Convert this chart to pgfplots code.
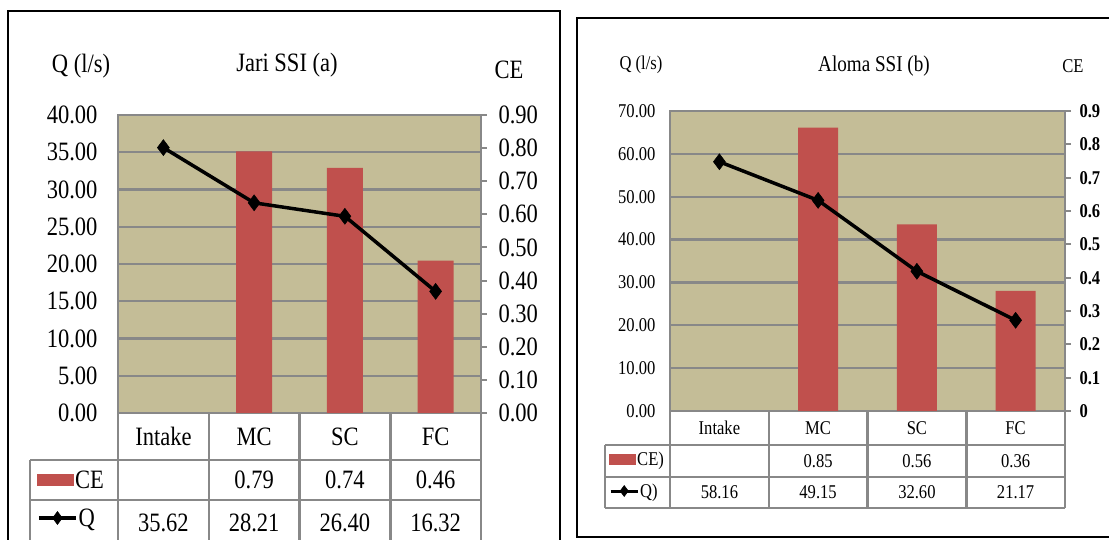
\documentclass[border=0pt]{standalone}
\usepackage{pgfplots}
\pgfplotsset{compat=1.18}
\usepackage{fontspec}
\setmainfont{Liberation Serif}[FakeStretch=0.85]

\definecolor{panel}{RGB}{196,189,151}
\definecolor{cebar}{RGB}{192,80,77}
\definecolor{rule}{RGB}{136,136,136}

\newcommand\fA{\fontsize{26.5}{28}\selectfont}
\newcommand\fB{\fontsize{19.5}{21}\selectfont}
\newcommand\fBt{\fontsize{22.5}{24}\selectfont}

\pgfplotsset{
  frame/.style={scale only axis, anchor=south west, xmin=-0.5, xmax=3.5, xtick=\empty},
  backdrop/.style={frame, axis background/.style={fill=panel},
    ymajorgrids, grid style={rule, line width=2.2pt},
    axis line style={rule, line width=2.5pt}, major tick length=0pt,
    yticklabel style={/pgf/number format/fixed, /pgf/number format/fixed zerofill,
      /pgf/number format/precision=2, /pgf/number format/assume math mode=true}},
  ceaxis/.style={frame, axis y line*=right, axis x line=none,
    axis line style={rule, line width=2.5pt, -},
    tick align=outside, major tick length=6pt, ytick style={rule, line width=2pt},
    ymin=0, ymax=0.9, ytick={0,0.1,0.2,0.3,0.4,0.5,0.6,0.7,0.8,0.9}, ybar,
    legend style={draw=none, fill=none, inner sep=0pt, anchor=west,
      nodes={inner sep=1pt}}, legend cell align=left},
  qaxis/.style={frame, hide axis,
    legend style={draw=none, fill=none, inner sep=0pt, anchor=west,
      nodes={inner sep=1pt}}, legend cell align=left},
  % legend glyphs for the two panels
  cekeyA/.style={legend image code/.code={\fill[cebar] (0pt,-6pt) rectangle (37pt,6pt);}},
  cekeyB/.style={legend image code/.code={\fill[cebar] (0pt,-5.5pt) rectangle (27pt,5.5pt);}},
  qkeyA/.style={legend image code/.code={\draw[black, line width=3.5pt, mark=diamond*,
      mark size=6.5pt, mark options={line width=0.5pt}, mark repeat=2, mark phase=2]
      plot coordinates {(0pt,0pt) (18.5pt,0pt) (37pt,0pt)};}},
  qkeyB/.style={legend image code/.code={\draw[black, line width=3pt, mark=diamond*,
      mark size=5.5pt, mark options={line width=0.5pt}, mark repeat=2, mark phase=2]
      plot coordinates {(0pt,0pt) (13.5pt,0pt) (27pt,0pt)};}},
}

\begin{document}
\begin{tikzpicture}[x=1pt,y=1pt]
\path[use as bounding box, clip] (0,0) rectangle (1109,540);

% ---------------- Jari SSI (a) ----------------
\begin{axis}[backdrop, at={(118pt,127pt)}, width=363pt, height=298pt,
  ymin=0, ymax=40, ytick distance=5,
  yticklabel style={font=\fA, xshift=-17pt}]
\end{axis}
\begin{axis}[ceaxis, at={(118pt,127pt)}, width=363pt, height=298pt,
  yticklabels={0.00,0.10,0.20,0.30,0.40,0.50,0.60,0.70,0.80,0.90},
  yticklabel style={font=\fA, xshift=8pt},
  bar width=36pt,
  legend style={at={(-0.2231,-0.2249)}, font=\fA}]
\addplot[fill=cebar, draw=none, cekeyA]
  coordinates {(1,0.79) (2,0.74) (3,0.46)};
\addlegendentry{CE}
\end{axis}
\begin{axis}[qaxis, at={(118pt,127pt)}, width=363pt, height=298pt,
  ymin=0, ymax=40,
  legend style={at={(-0.2231,-0.3523)}, font=\fA}]
\addplot[black, line width=3.5pt, mark=diamond*, mark size=8pt,
  mark options={line width=0.5pt, solid}, qkeyA]
  coordinates {(0,35.62) (1,28.21) (2,26.40) (3,16.32)};
\addlegendentry{Q}
\end{axis}

% data table under the chart
\begin{scope}[rule, line width=2.5pt]
  \draw (30,80) -- (481,80);
  \draw (30,40) -- (481,40);
  \foreach \x in {118,208.75,299.5,390.25,481} \draw (\x,127) -- (\x,-10);
  \draw (30,80) -- (30,-10);
\end{scope}
\begin{scope}[font=\fA]
  \node at (163.4,103.5) {Intake};
  \node at (254.1,103.5) {MC};
  \node at (344.9,103.5) {SC};
  \node at (435.6,103.5) {FC};
  \node at (254.1,60) {0.79};
  \node at (344.9,60) {0.74};
  \node at (435.6,60) {0.46};
  \node at (163.4,17) {35.62};
  \node at (254.1,17) {28.21};
  \node at (344.9,17) {26.40};
  \node at (435.6,17) {16.32};
  \node[anchor=base] at (81,467) {Q (l/s)};
  \node[anchor=base] at (287,468) {Jari SSI (a)};
  \node[anchor=base] at (509,461) {CE};
\end{scope}
\draw[black, line width=2pt] (8,-10) -- (8,529) -- (560,529) -- (560,-10);

% ---------------- Aloma SSI (b) ----------------
\begin{axis}[backdrop, at={(670pt,129pt)}, width=395pt, height=300pt,
  ymin=0, ymax=70, ytick distance=10,
  yticklabel style={font=\fB, xshift=-11pt}]
\end{axis}
\begin{axis}[ceaxis, at={(670pt,129pt)}, width=395pt, height=300pt,
  yticklabels={0,0.1,0.2,0.3,0.4,0.5,0.6,0.7,0.8,0.9},
  yticklabel style={font=\fB\bfseries, xshift=5pt},
  bar width=40pt,
  legend style={at={(-0.1544,-0.1617)}, font=\fB}]
\addplot[fill=cebar, draw=none, cekeyB]
  coordinates {(1,0.85) (2,0.56) (3,0.36)};
\addlegendentry{CE)}
\end{axis}
\begin{axis}[qaxis, at={(670pt,129pt)}, width=395pt, height=300pt,
  ymin=0, ymax=70,
  legend style={at={(-0.1544,-0.2667)}, font=\fB}]
\addplot[black, line width=3.5pt, mark=diamond*, mark size=8pt,
  mark options={line width=0.5pt, solid}, qkeyB]
  coordinates {(0,58.16) (1,49.15) (2,32.60) (3,21.17)};
\addlegendentry{Q)}
\end{axis}

\begin{scope}[rule, line width=2.5pt]
  \draw (605,95) -- (1065,95);
  \draw (605,63) -- (1065,63);
  \draw (605,32) -- (1065,32);
  \foreach \x in {670,768.75,867.5,966.25,1065} \draw (\x,129) -- (\x,32);
  \draw (605,95) -- (605,32);
\end{scope}
\begin{scope}[font=\fB]
  \node at (719.4,112) {Intake};
  \node at (818.1,112) {MC};
  \node at (916.9,112) {SC};
  \node at (1015.6,112) {FC};
  \node at (818.1,79) {0.85};
  \node at (916.9,79) {0.56};
  \node at (1015.6,79) {0.36};
  \node at (719.4,47.5) {58.16};
  \node at (818.1,47.5) {49.15};
  \node at (916.9,47.5) {32.60};
  \node at (1015.6,47.5) {21.17};
  \node[anchor=base] at (641,470) {Q (l/s)};
  \node[anchor=base] at (1073,467) {CE};
\end{scope}
\node[anchor=base, font=\fBt] at (874,468.5) {Aloma SSI (b)};
\draw[black, line width=2pt] (1115,3) -- (577,3) -- (577,522) -- (1115,522);
\end{tikzpicture}
\end{document}
